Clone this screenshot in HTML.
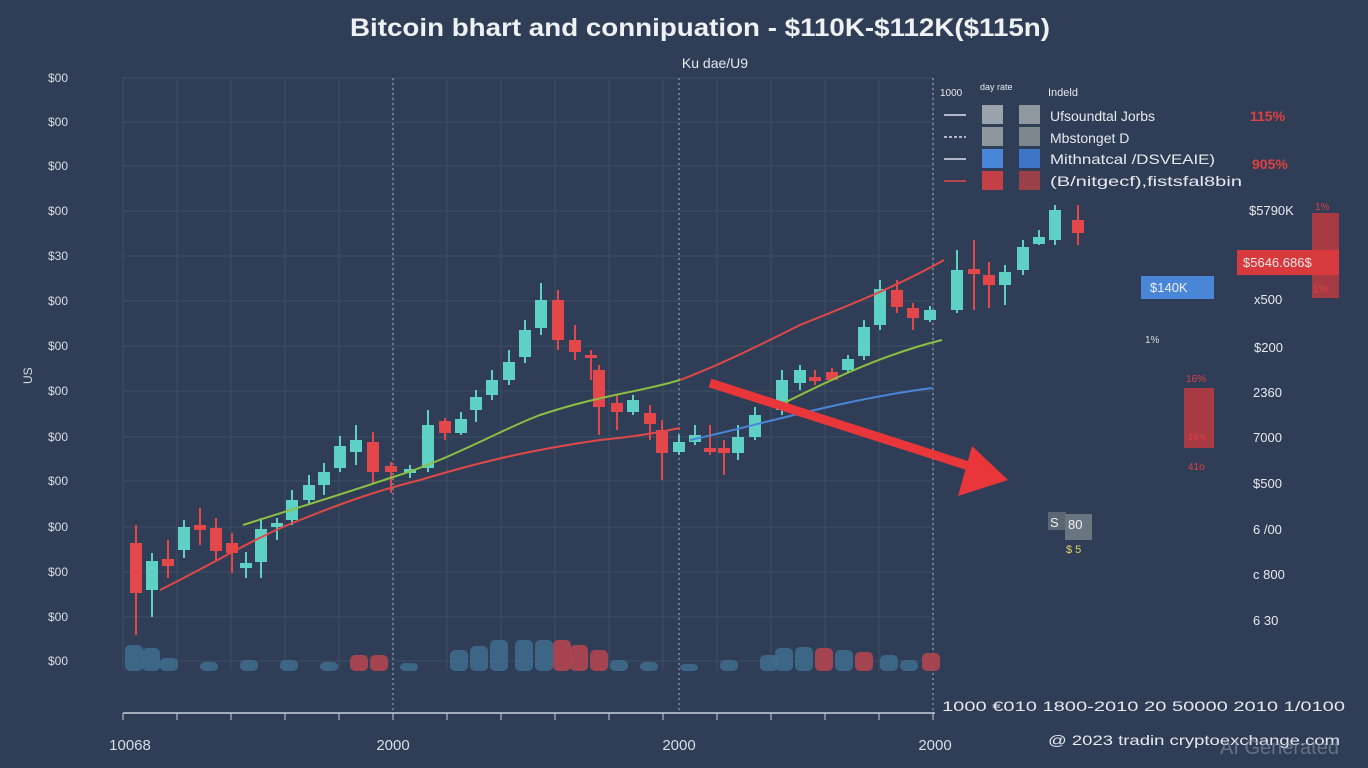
<!DOCTYPE html>
<html><head><meta charset="utf-8"><style>
html,body{margin:0;padding:0;background:#2f3e56;}
svg{display:block;font-family:"Liberation Sans",sans-serif;}
</style></head><body>
<svg id="s" width="1368" height="768" viewBox="0 0 1368 768" xmlns="http://www.w3.org/2000/svg">
<rect width="1368" height="768" fill="#2f3e56"/>
<g id="grid" stroke="#3e4d64" stroke-width="1"></g>
<line x1="393" y1="78" x2="393" y2="713" stroke="#aab4c2" stroke-dasharray="2,3"/>
<line x1="679" y1="78" x2="679" y2="713" stroke="#aab4c2" stroke-dasharray="2,3"/>
<line x1="933" y1="78" x2="933" y2="713" stroke="#aab4c2" stroke-dasharray="2,3"/>
<text x="350" y="36" fill="#eef1f5" font-size="25" font-weight="bold" textLength="700" lengthAdjust="spacingAndGlyphs">Bitcoin bhart and connipuation - $110K-$112K($115n)</text>
<text x="715" y="68" fill="#e6e9ee" font-size="14" text-anchor="middle">Ku dae/U9</text>
<text x="28" y="388" fill="#d8dde5" font-size="12" transform="rotate(-90 28 384)">US</text>
<g id="ylab" fill="#d8dde5" font-size="12"></g>
<g id="vol"></g>
<g id="cand"></g>
<path d="M160,590 C220,560 260,535 300,520 C350,500 380,490 420,480 C480,462 530,450 600,440 C640,436 660,432 680,428" fill="none" stroke="#e04848" stroke-width="2"/>
<path d="M680,380 C720,365 760,345 800,325 C850,305 900,285 944,260" fill="none" stroke="#e04848" stroke-width="2"/>
<path d="M243,525 C290,510 340,495 390,478 C450,460 500,430 540,415 C600,395 640,392 680,380" fill="none" stroke="#8cc043" stroke-width="2"/>
<path d="M780,405 C820,385 880,355 942,340" fill="none" stroke="#8cc043" stroke-width="2"/>
<path d="M690,440 C760,425 840,400 932,388" fill="none" stroke="#4a86d8" stroke-width="2"/>
<line x1="710" y1="383" x2="975" y2="468" stroke="#e8363a" stroke-width="9"/>
<polygon points="1008,480 958,496 972,446" fill="#e8363a"/>
<line x1="123" y1="713" x2="935" y2="713" stroke="#c8cfd8" stroke-width="1.5"/>
<g id="xt" stroke="#c8cfd8"></g>
<text x="130" y="750" fill="#d8dde5" font-size="15" text-anchor="middle">10068</text>
<text x="393" y="750" fill="#d8dde5" font-size="15" text-anchor="middle">2000</text>
<text x="679" y="750" fill="#d8dde5" font-size="15" text-anchor="middle">2000</text>
<text x="935" y="750" fill="#d8dde5" font-size="15" text-anchor="middle">2000</text>
<text x="942" y="711" fill="#e6e9ee" font-size="14" textLength="403" lengthAdjust="spacingAndGlyphs">1000 €010   1800-2010   20  50000   2010 1/0100</text>
<text x="1048" y="745" fill="#e6e9ee" font-size="14" textLength="292" lengthAdjust="spacingAndGlyphs">@ 2023 tradin cryptoexchange.com</text>
<text x="1220" y="754" fill="#8793a3" font-size="20" opacity="0.6">AI Generated</text>
<!-- legend -->
<text x="940" y="96" fill="#e6e9ee" font-size="10">1000</text>
<text x="980" y="90" fill="#e6e9ee" font-size="9">day rate</text>
<text x="1048" y="96" fill="#e6e9ee" font-size="11">Indeld</text>
<g id="leg"></g>
<text x="1050" y="121" fill="#e6e9ee" font-size="14">Ufsoundtal Jorbs</text>
<text x="1050" y="143" fill="#e6e9ee" font-size="14">Mbstonget  D</text>
<text x="1050" y="164" fill="#e6e9ee" font-size="14" textLength="165" lengthAdjust="spacingAndGlyphs">Mithnatcal /DSVEAIE)</text>
<text x="1050" y="186" fill="#e6e9ee" font-size="14" textLength="192" lengthAdjust="spacingAndGlyphs">(B/nitgecf),fistsfal8bin</text>
<text x="1250" y="121" fill="#e04040" font-size="14" font-weight="bold">115%</text>
<text x="1252" y="169" fill="#e04040" font-size="14" font-weight="bold">905%</text>
<text x="1249" y="215" fill="#e6e9ee" font-size="13">$5790K</text>
<rect x="1312" y="213" width="27" height="85" fill="#a83a44"/>
<text x="1315" y="210" fill="#e04040" font-size="10">1%</text>
<rect x="1237" y="250" width="102" height="25" fill="#d8393d"/>
<text x="1243" y="267" fill="#f0e8e8" font-size="13">$5646.686$</text>
<text x="1313" y="292" fill="#e04040" font-size="10">1%</text>
<rect x="1141" y="276" width="73" height="23" fill="#4a86d8"/>
<text x="1150" y="292" fill="#eef" font-size="13">$140K</text>
<text x="1254" y="304" fill="#e6e9ee" font-size="13">x500</text>
<text x="1145" y="343" fill="#d8dde5" font-size="10">1%</text>
<text x="1254" y="352" fill="#e6e9ee" font-size="13">$200</text>
<rect x="1184" y="388" width="30" height="60" fill="#a83a44"/>
<text x="1186" y="382" fill="#e04040" font-size="10">16%</text>
<text x="1188" y="440" fill="#e04040" font-size="9">16%</text>
<text x="1188" y="470" fill="#e04040" font-size="10">41o</text>
<text x="1253" y="397" fill="#e6e9ee" font-size="13">2360</text>
<text x="1253" y="442" fill="#e6e9ee" font-size="13">7000</text>
<text x="1253" y="488" fill="#e6e9ee" font-size="13">$500</text>
<text x="1253" y="534" fill="#e6e9ee" font-size="13">6 /00</text>
<text x="1253" y="579" fill="#e6e9ee" font-size="13">c 800</text>
<text x="1253" y="625" fill="#e6e9ee" font-size="13">6 30</text>
<rect x="1048" y="512" width="18" height="18" fill="#5b6674"/>
<rect x="1065" y="514" width="27" height="26" fill="#6a7582"/>
<text x="1050" y="527" fill="#eee" font-size="13">S</text>
<text x="1068" y="529" fill="#eee" font-size="13">80</text>
<text x="1066" y="553" fill="#e6d060" font-size="11">$ 5</text>
</svg>
<script>
var NS="http://www.w3.org/2000/svg";
function el(p,t,a){var e=document.createElementNS(NS,t);for(var k in a)e.setAttribute(k,a[k]);document.getElementById(p).appendChild(e);return e;}
var ys=[78,122,166,211,256,301,346,391,437,481,527,572,617,661];
var yl=["$00","$00","$00","$00","$30","$00","$00","$00","$00","$00","$00","$00","$00","$00"];
ys.forEach(function(y,i){el("grid","line",{x1:123,x2:933,y1:y,y2:y});var t=el("ylab","text",{x:48,y:y+4});t.textContent=yl[i];});
for(var x=123;x<=933;x+=54)el("grid","line",{x1:x,x2:x,y1:78,y2:670});
for(var x=123;x<=935;x+=54)el("xt","line",{x1:x,x2:x,y1:713,y2:720});
var C=[[136,543,593,525,635,0],[152,561,590,553,617,1],[168,559,566,540,578,0],[184,527,550,520,558,1],[200,525,530,508,545,0],[216,528,551,518,560,0],[232,543,553,533,573,0],[246,563,568,552,578,1],[261,529,562,518,578,1],[277,523,527,518,540,1],[292,500,520,490,525,1],[309,485,500,475,505,1],[324,472,485,463,495,1],[340,446,468,436,472,1],[356,440,452,425,465,1],[373,442,472,432,483,0],[391,466,472,462,493,0],[410,469,473,465,478,1],[428,425,468,410,472,1],[445,421,433,418,440,0],[461,419,433,412,435,1],[476,397,410,390,422,1],[492,380,395,370,400,1],[509,362,380,350,385,1],[525,330,357,320,363,1],[541,300,328,283,335,1],[558,300,340,290,350,0],[575,340,352,325,360,0],[591,355,358,350,380,0],[599,370,407,365,435,0],[617,403,412,395,430,0],[633,400,412,395,415,1],[650,413,424,405,440,0],[662,430,453,420,480,0],[679,442,452,435,455,1],[695,435,442,425,445,1],[710,448,452,425,455,0],[724,448,453,440,475,0],[738,437,453,425,460,1],[755,415,437,407,440,1],[782,380,410,370,415,1],[800,370,383,365,390,1],[815,377,381,370,385,0],[832,372,380,368,380,0],[848,359,370,355,373,1],[864,327,356,320,360,1],[880,289,325,280,330,1],[897,290,307,280,313,0],[913,308,318,303,330,0],[930,310,320,306,322,1],[957,270,310,250,313,1],[974,269,274,240,310,0],[989,275,285,262,308,0],[1005,272,285,265,305,1],[1023,247,270,240,275,1],[1039,237,244,230,245,1],[1055,210,240,205,245,1],[1078,220,233,205,245,0]];
C.forEach(function(c){var col=c[5]?"#5ed0c4":"#e4474a";el("cand","line",{x1:c[0],x2:c[0],y1:c[3],y2:c[4],stroke:col,"stroke-width":2});el("cand","rect",{x:c[0]-6,y:c[1],width:12,height:Math.max(3,c[2]-c[1]),fill:col});});
var V=[[125,645,0],[142,648,0],[160,658,0],[200,662,0],[240,660,0],[280,660,0],[320,662,0],[350,655,2],[370,655,2],[400,663,0],[450,650,0],[470,646,0],[490,640,0],[515,640,0],[535,640,0],[553,640,2],[570,645,2],[590,650,2],[610,660,0],[640,662,0],[680,664,0],[720,660,0],[760,655,0],[775,648,0],[795,647,0],[815,648,2],[835,650,0],[855,652,2],[880,655,0],[900,660,0],[922,653,2]];
V.forEach(function(v){el("vol","rect",{x:v[0],y:v[1],width:18,height:671-v[1],rx:5,fill:v[2]?"#b04550":"#3f6a8c",opacity:0.9});});
var L=[[105,"#9aa2ab","#8f979f"],[127,"#8e969e","#7e868e"],[149,"#4a86d8","#3f75c6"],[171,"#c24046","#9a4048"]];
L.forEach(function(l,i){el("leg","line",{x1:944,x2:966,y1:l[0]+10,y2:l[0]+10,stroke:i==3?"#e04848":"#dde","stroke-width":1.5,"stroke-dasharray":i==1?"3,2":"none"});el("leg","rect",{x:982,y:l[0],width:21,height:19,fill:l[1]});el("leg","rect",{x:1019,y:l[0],width:21,height:19,fill:l[2]});});
</script>
</body></html>
